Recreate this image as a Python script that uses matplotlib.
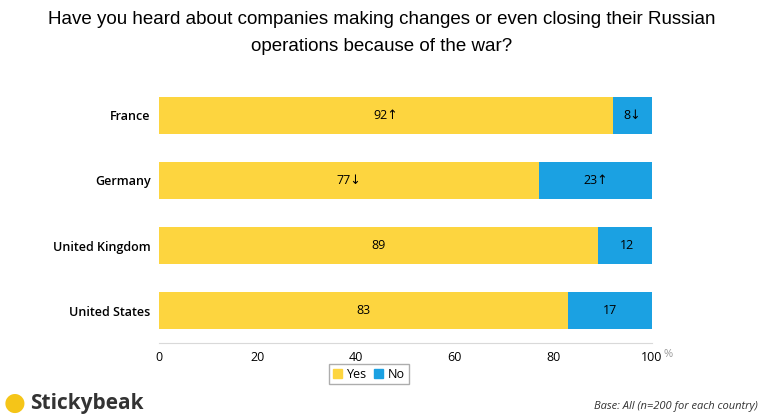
import matplotlib.pyplot as plt
from matplotlib.patches import Patch

countries = ["France", "Germany", "United Kingdom", "United States"]
yes = [92, 77, 89, 83]
no = [8, 23, 12, 17]
yes_labels = ["92↑", "77↓", "89", "83"]
no_labels = ["8↓", "23↑", "12", "17"]

YELLOW = "#FDD53F"
BLUE = "#1BA1E2"

plt.rcParams["font.family"] = ["Open Sans", "DejaVu Sans"]

fig = plt.figure(figsize=(7.64, 4.19), dpi=100)
ax = fig.add_axes([159 / 764, 1 - 343 / 419, (652 - 159) / 764, 260 / 419])

ypos = list(range(len(countries)))
ax.barh(ypos, yes, height=0.56, color=YELLOW)
ax.barh(ypos, no, left=yes, height=0.56, color=BLUE)
for y, yv, nv, yl, nl in zip(ypos, yes, no, yes_labels, no_labels):
    ax.text(yv / 2, y, yl, ha="center", va="center", fontsize=9)
    ax.text(yv + nv / 2, y, nl, ha="center", va="center", fontsize=9)

ax.set_xlim(0, 100)
ax.set_ylim(3.5, -0.5)
ax.set_yticks(ypos)
ax.set_yticklabels(countries, fontsize=9, fontweight="semibold")
ax.set_xticks([0, 20, 40, 60, 80, 100])
ax.set_xticklabels(["0", "20", "40", "60", "80", "100"], fontsize=9)
ax.tick_params(length=0, pad=6)
for s in ["top", "right", "left"]:
    ax.spines[s].set_visible(False)
ax.spines["bottom"].set_color("#d9d9d9")
fig.text(664 / 764, 1 - 354 / 419, "%", fontsize=8, color="#999999", va="center")

fig.text(0.5, 1 - 20 / 419, "Have you heard about companies making changes or even closing their Russian",
         ha="center", va="center", fontsize=13.5, family="Liberation Sans")
fig.text(0.5, 1 - 46 / 419, "operations because of the war?",
         ha="center", va="center", fontsize=13.5, family="Liberation Sans")

fig.legend(handles=[Patch(color=YELLOW, label="Yes"), Patch(color=BLUE, label="No")],
           loc="center", bbox_to_anchor=(369 / 764, 1 - 374 / 419), ncol=2, fontsize=9,
           frameon=True, fancybox=False, edgecolor="#999999", handlelength=0.7,
           handleheight=0.7, handletextpad=0.4, columnspacing=0.6, borderpad=0.3)

fig.text(4 / 764, 1 - 403 / 419, "●", fontsize=18, color="#F5C518", va="center")
fig.text(30 / 764, 1 - 403 / 419, "Stickybeak", fontsize=15, fontweight="bold",
         color="#333333", va="center")
fig.text(758 / 764, 1 - 406 / 419, "Base: All (n=200 for each country)", fontsize=8,
         style="italic", ha="right", va="center", color="#333333")

fig.savefig("out.png", dpi=100)
